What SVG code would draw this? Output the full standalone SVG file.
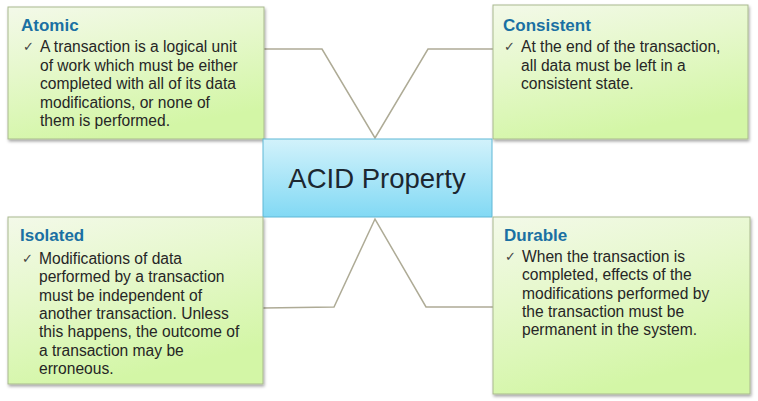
<svg xmlns="http://www.w3.org/2000/svg" width="758" height="401" viewBox="0 0 758 401">
  <defs>
    <linearGradient id="gGreen" x1="0" y1="0" x2="0.35" y2="1">
      <stop offset="0" stop-color="#f3f9e9"/>
      <stop offset="0.45" stop-color="#e6f8cc"/>
      <stop offset="1" stop-color="#d3f6a6"/>
    </linearGradient>
    <linearGradient id="gBlue" x1="0" y1="0" x2="0" y2="1">
      <stop offset="0" stop-color="#d2f2fb"/>
      <stop offset="1" stop-color="#82d9f4"/>
    </linearGradient>
    <filter id="shadow" x="-5%" y="-5%" width="112%" height="115%">
      <feDropShadow dx="1" dy="2" stdDeviation="1.5" flood-color="#000" flood-opacity="0.35"/>
    </filter>
  </defs>
  <style>
    .box { fill: url(#gGreen); stroke: #a9b98f; stroke-width: 1; filter: url(#shadow); }
    .hub { fill: url(#gBlue); stroke: #5fb7d6; stroke-width: 1; }
    .title { font-family: "Liberation Sans", Arial, sans-serif; font-weight: bold; font-size: 17px; fill: #1a70a3; }
    .body { font-family: "Liberation Sans", Arial, sans-serif; font-size: 15.6px; fill: #262626; }
    .tick { font-family: "DejaVu Sans", sans-serif; font-size: 13px; fill: #444; }
    .hubtext { font-family: "Liberation Sans", Arial, sans-serif; font-size: 27.5px; fill: #1c2730; }
    .link { fill: none; stroke: #aeab96; stroke-width: 1.5; stroke-linejoin: miter; }
  </style>

  <rect width="758" height="401" fill="#ffffff"/>

  <g id="connectors">
    <polyline class="link" points="264,49 322,49 375,138 428,49 493,49"/>
    <polyline class="link" points="263,308 334,307 375,219 426,307 493,307"/>
  </g>

  <g id="atomic">
    <rect class="box" x="8" y="7" width="256" height="132"/>
    <text class="title" x="21" y="31">Atomic</text>
    <text class="tick" x="23" y="51">✓</text>
    <text class="body">
      <tspan x="40" y="52">A transaction is a logical unit</tspan>
      <tspan x="40" y="70.5">of work which must be either</tspan>
      <tspan x="40" y="89">completed with all of its data</tspan>
      <tspan x="40" y="107.5">modifications, or none of</tspan>
      <tspan x="40" y="126">them is performed.</tspan>
    </text>
  </g>

  <g id="consistent">
    <rect class="box" x="493" y="5" width="255" height="134"/>
    <text class="title" x="503" y="31">Consistent</text>
    <text class="tick" x="504" y="51">✓</text>
    <text class="body">
      <tspan x="521" y="52">At the end of the transaction,</tspan>
      <tspan x="521" y="70.5">all data must be left in a</tspan>
      <tspan x="521" y="89">consistent state.</tspan>
    </text>
  </g>

  <g id="acid">
    <rect class="hub" x="263" y="139" width="229" height="78"/>
    <text class="hubtext" x="377" y="188" text-anchor="middle">ACID Property</text>
  </g>

  <g id="isolated">
    <rect class="box" x="8" y="217" width="255" height="167"/>
    <text class="title" x="20" y="241">Isolated</text>
    <text class="tick" x="22" y="263">✓</text>
    <text class="body">
      <tspan x="39" y="264">Modifications of data</tspan>
      <tspan x="39" y="282.3">performed by a transaction</tspan>
      <tspan x="39" y="300.6">must be independent of</tspan>
      <tspan x="39" y="318.9">another transaction. Unless</tspan>
      <tspan x="39" y="337.2">this happens, the outcome of</tspan>
      <tspan x="39" y="355.5">a transaction may be</tspan>
      <tspan x="39" y="373.8">erroneous.</tspan>
    </text>
  </g>

  <g id="durable">
    <rect class="box" x="493" y="217" width="257" height="177"/>
    <text class="title" x="504" y="241">Durable</text>
    <text class="tick" x="505" y="261">✓</text>
    <text class="body">
      <tspan x="522" y="262">When the transaction is</tspan>
      <tspan x="522" y="280.3">completed, effects of the</tspan>
      <tspan x="522" y="298.6">modifications performed by</tspan>
      <tspan x="522" y="316.9">the transaction must be</tspan>
      <tspan x="522" y="335.2">permanent in the system.</tspan>
    </text>
  </g>
</svg>
